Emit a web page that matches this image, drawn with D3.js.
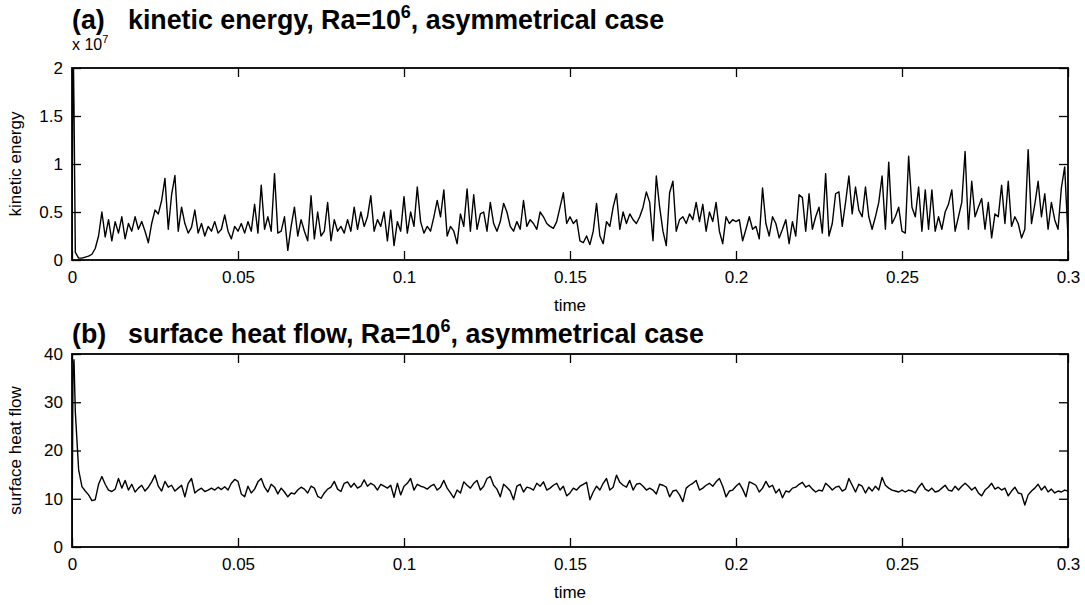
<!DOCTYPE html>
<html>
<head>
<meta charset="utf-8">
<script src="https://cdn.jsdelivr.net/npm/d3@7"></script>
<style>
  body { margin: 0; background: #fff; }
  svg { display: block; font-family: "Liberation Sans", Arial, sans-serif; }
</style>
</head>
<body>
<svg id="fig"></svg>
<script>
// axis ticks
const timeTicks = [0, 0.05, 0.1, 0.15, 0.2, 0.25, 0.3];
const timeTickLabels = ["0", "0.05", "0.1", "0.15", "0.2", "0.25", "0.3"];
const keTicks = [0, 0.5, 1, 1.5, 2];
const keTickLabels = ["0", "0.5", "1", "1.5", "2"];
const heatTicks = [0, 10, 20, 30, 40];
const heatTickLabels = ["0", "10", "20", "30", "40"];

// start-up transient, sampled finer
const earlyTime = [0, 0.0003, 0.0006];
const earlyKinetic = [0, 2.4, 1.6];
const earlyHeat = [0, 36, 38.8];

// then one sample every 0.001 from t = 0.001 to t = 0.3
const sampleStep = 0.001;

// kinetic energy, units of 10^7
const kineticEnergy = [
  0.08, 0.02, 0.02, 0.03, 0.04, 0.06, 0.12, 0.25, 0.5, 0.24,
  0.42, 0.2, 0.4, 0.28, 0.45, 0.22, 0.38, 0.3, 0.45, 0.32,
  0.4, 0.3, 0.18, 0.38, 0.52, 0.48, 0.62, 0.85, 0.32, 0.68,
  0.88, 0.3, 0.55, 0.38, 0.28, 0.34, 0.52, 0.28, 0.38, 0.25,
  0.35, 0.3, 0.4, 0.28, 0.32, 0.47, 0.3, 0.22, 0.35, 0.3,
  0.38, 0.28, 0.4, 0.3, 0.58, 0.28, 0.78, 0.32, 0.45, 0.3,
  0.9, 0.28, 0.3, 0.45, 0.1, 0.35, 0.55, 0.25, 0.42, 0.3,
  0.2, 0.67, 0.22, 0.5, 0.25, 0.3, 0.6, 0.2, 0.42, 0.3,
  0.35, 0.28, 0.42, 0.3, 0.55, 0.32, 0.5, 0.35, 0.45, 0.67,
  0.3, 0.42, 0.35, 0.5, 0.2, 0.52, 0.15, 0.4, 0.3, 0.66,
  0.28, 0.5, 0.35, 0.76, 0.4, 0.28, 0.35, 0.3, 0.45, 0.62,
  0.45, 0.73, 0.25, 0.35, 0.3, 0.17, 0.48, 0.35, 0.74, 0.3,
  0.68, 0.32, 0.48, 0.5, 0.3, 0.6, 0.38, 0.3, 0.4, 0.59,
  0.5, 0.35, 0.3, 0.4, 0.32, 0.62, 0.35, 0.42, 0.38, 0.32,
  0.5, 0.45, 0.38, 0.35, 0.33, 0.4, 0.55, 0.7, 0.38, 0.45,
  0.38, 0.42, 0.2, 0.18, 0.25, 0.16, 0.3, 0.59, 0.25, 0.17,
  0.4, 0.35, 0.55, 0.69, 0.32, 0.5, 0.38, 0.48, 0.42, 0.38,
  0.45, 0.55, 0.71, 0.6, 0.2, 0.875, 0.55, 0.3, 0.15, 0.7,
  0.82, 0.3, 0.42, 0.45, 0.38, 0.48, 0.42, 0.6, 0.4, 0.58,
  0.3, 0.5, 0.4, 0.6, 0.3, 0.17, 0.45, 0.38, 0.42, 0.4,
  0.42, 0.2, 0.32, 0.45, 0.32, 0.35, 0.22, 0.75, 0.38, 0.25,
  0.45, 0.38, 0.23, 0.32, 0.42, 0.17, 0.4, 0.25, 0.68, 0.65,
  0.3, 0.69, 0.32, 0.45, 0.55, 0.28, 0.9, 0.25, 0.38, 0.69,
  0.71, 0.35, 0.6, 0.875, 0.48, 0.76, 0.52, 0.45, 0.76, 0.45,
  0.32, 0.45, 0.6, 0.875, 0.32, 1.02, 0.38, 0.45, 0.55, 0.3,
  0.28, 1.08, 0.55, 0.45, 0.76, 0.3, 0.73, 0.32, 0.73, 0.3,
  0.45, 0.32, 0.5, 0.58, 0.73, 0.3, 0.45, 0.6, 1.13, 0.32,
  0.82, 0.45, 0.55, 0.64, 0.32, 0.6, 0.23, 0.48, 0.45, 0.78,
  0.38, 0.82, 0.35, 0.45, 0.38, 0.23, 0.32, 1.15, 0.38, 0.58,
  0.82, 0.45, 0.69, 0.32, 0.6, 0.42, 0.32, 0.75, 0.97, 0.24
];

// surface heat flow
const heatFlow = [
  28, 16, 12.5, 11.6, 10.8, 9.6, 9.8, 13, 14.6, 13,
  11.8, 11.5, 12, 14.2, 12.2, 13.8, 11.8, 13, 11.4, 12.2,
  12.8, 11.6, 12.4, 13.5, 14.9, 12.6, 11.6, 13.6, 12.4, 12.8,
  11.6, 12.2, 12.8, 10.4, 13.2, 14.2, 11.2, 11.8, 12.2, 11.5,
  11.8, 12.2, 11.8, 12.4, 11.9, 12.5, 11.8, 13.2, 14, 13.6,
  11, 10.4, 12.6, 11.2, 12, 13.5, 14.2, 12.4, 11.4, 13,
  12.4, 11, 12.2, 11.4, 10.4, 11.2, 11, 11.8, 12.4, 12,
  11.2, 12.6, 12.2, 10.5, 10.1, 11.2, 12, 12.4, 13.6, 12,
  11.5, 13.2, 13.5, 12.4, 13.2, 12.2, 12.6, 13.9, 12.6, 13.2,
  12.8, 11.8, 13, 12.6, 12.2, 12.8, 10.3, 13.2, 10.8, 12.6,
  13.2, 14.2, 11.8, 13, 12.6, 12.4, 12, 12.6, 13, 11.8,
  12.4, 13.8, 12.2, 11.2, 10.2, 11.8, 11.2, 13.5, 12.8, 12.2,
  13.2, 13.8, 11.8, 12.6, 14.2, 14.6, 12.8, 12, 10.4, 13,
  12.4, 11.6, 9.8, 12.6, 13, 11.4, 12.4, 12.2, 11.8, 13.2,
  12.6, 13.5, 11.8, 12.2, 12.8, 13.2, 11.8, 12.6, 10.6, 11.2,
  12.2, 11.8, 12.6, 13, 13.4, 9.8, 11.4, 12.6, 11.8, 13.2,
  14.2, 11.8, 12.4, 14.9, 13.4, 12.8, 12.4, 13.8, 11.8, 13,
  13.2, 12.6, 11.8, 12.2, 11.8, 11, 13, 12.8, 12.4, 10.4,
  11.6, 11.8, 10.8, 9.4, 12.2, 12.8, 13.2, 13.8, 11.8, 12.2,
  12.8, 13.2, 12.6, 13.5, 14.2, 12.6, 10.4, 11.6, 11.8, 12.6,
  13.2, 12, 10.4, 13.5, 13.2, 12.8, 11.4, 12.2, 13.6, 12.4,
  12.8, 11.2, 12, 10.2, 11.6, 11.4, 12.2, 12.4, 13, 13.4,
  12.4, 12.8, 12, 11.4, 11.8, 11.6, 13.2, 12.6, 11.8, 12.4,
  12.6, 11.6, 12, 14.2, 12.8, 11.4, 13, 12.6, 11.2, 12.4,
  11.6, 12.6, 11.8, 14.4, 12.8, 12.2, 11.8, 11.6, 11.4, 11.8,
  11.4, 11.8, 11.6, 11.2, 12.4, 13.2, 12, 11.6, 12.2, 11.4,
  11.6, 12.2, 12.8, 11.8, 11.6, 12.6, 11.8, 12.6, 13.2, 12.6,
  11.8, 12.4, 11.2, 10.6, 11.8, 12.4, 13.2, 12, 12.4, 11.8,
  12.2, 10.6, 11.6, 12.4, 11.2, 11, 8.7, 10.8, 11.6, 12.2,
  13, 11.8, 12.6, 11.4, 12, 11.2, 11.6, 11.4, 11.8, 11.6
];

const width = 1085, height = 605;
const left = 72, right = 1068;
const tickLen = 9;

const svg = d3.select("#fig")
    .attr("width", width)
    .attr("height", height)
    .attr("viewBox", [0, 0, width, height]);

const sampleTime = kineticEnergy.map((_, i) => (i + 1) * sampleStep);

function toPoints(early, values) {
    const pts = earlyTime.map((t, i) => [t, early[i]]);
    values.forEach((v, i) => pts.push([sampleTime[i], v]));
    return pts;
}

function drawPanel(p) {
    const x = d3.scaleLinear().domain([0, 0.3]).range([left, right]);
    const y = d3.scaleLinear().domain(p.yDomain).range([p.bottom, p.top]);
    const g = svg.append("g");

    g.append("clipPath")
        .attr("id", `clip${p.id}`)
        .append("rect")
        .attr("x", left).attr("y", p.top)
        .attr("width", right - left).attr("height", p.bottom - p.top);

    // data
    g.append("path")
        .datum(p.points)
        .attr("clip-path", `url(#clip${p.id})`)
        .attr("fill", "none")
        .attr("stroke", "#000")
        .attr("stroke-width", 1.4)
        .attr("stroke-linejoin", "round")
        .attr("d", d3.line().x(d => x(d[0])).y(d => y(d[1])));

    // axes, ticks pointing inward like matlab
    const fmtX = d => timeTickLabels[timeTicks.indexOf(d)];
    const fmtY = d => p.tickLabels[p.ticks.indexOf(d)];

    g.append("g")
        .attr("transform", `translate(0,${p.bottom})`)
        .call(d3.axisBottom(x).tickValues(timeTicks).tickFormat(fmtX).tickSize(-tickLen).tickPadding(11));
    g.append("g")
        .attr("transform", `translate(0,${p.top})`)
        .call(d3.axisTop(x).tickValues(timeTicks).tickFormat("").tickSize(-tickLen));
    g.append("g")
        .attr("transform", `translate(${left},0)`)
        .call(d3.axisLeft(y).tickValues(p.ticks).tickFormat(fmtY).tickSize(-tickLen).tickPadding(9));
    g.append("g")
        .attr("transform", `translate(${right},0)`)
        .call(d3.axisRight(y).tickValues(p.ticks).tickFormat("").tickSize(-tickLen));

    g.selectAll(".domain").remove();
    g.selectAll(".tick line").attr("stroke", "#000").attr("stroke-width", 1.3);
    g.selectAll(".tick text")
        .attr("fill", "#000")
        .style("font-family", "'Liberation Sans', Arial, sans-serif")
        .style("font-size", "17px");

    // frame
    g.append("rect")
        .attr("x", left).attr("y", p.top)
        .attr("width", right - left).attr("height", p.bottom - p.top)
        .attr("fill", "none")
        .attr("stroke", "#000")
        .attr("stroke-width", 1.8);

    // labels
    g.append("text")
        .attr("x", (left + right) / 2)
        .attr("y", p.bottom + 51)
        .attr("text-anchor", "middle")
        .style("font-size", "17px")
        .text("time");

    g.append("text")
        .attr("transform", `translate(21,${(p.top + p.bottom) / 2}) rotate(-90)`)
        .attr("text-anchor", "middle")
        .style("font-size", "17px")
        .text(p.yLabel);

    // title
    const title = g.append("text")
        .attr("x", left)
        .attr("y", p.titleY)
        .style("font-size", "26.8px")
        .style("font-weight", "bold");
    title.append("tspan").text(p.tag);
    title.append("tspan").attr("x", 128).text(p.titleText + ", Ra=10");
    title.append("tspan").attr("dy", -11).style("font-size", "18px").text("6");
    title.append("tspan").attr("dy", 11).text(", asymmetrical case");

    return g;
}

const gA = drawPanel({
    id: "a", top: 68, bottom: 260, yDomain: [0, 2],
    ticks: keTicks, tickLabels: keTickLabels,
    points: toPoints(earlyKinetic, kineticEnergy),
    yLabel: "kinetic energy", tag: "(a)", titleText: "kinetic energy", titleY: 29
});

// exponent label of the kinetic energy axis
const expo = gA.append("text")
    .attr("x", left)
    .attr("y", 50)
    .style("font-size", "16px");
expo.append("tspan").text("x 10");
expo.append("tspan").attr("dy", -7).style("font-size", "11px").text("7");

drawPanel({
    id: "b", top: 354, bottom: 547, yDomain: [0, 40],
    ticks: heatTicks, tickLabels: heatTickLabels,
    points: toPoints(earlyHeat, heatFlow),
    yLabel: "surface heat flow", tag: "(b)", titleText: "surface heat flow", titleY: 343
});
</script>
</body>
</html>
